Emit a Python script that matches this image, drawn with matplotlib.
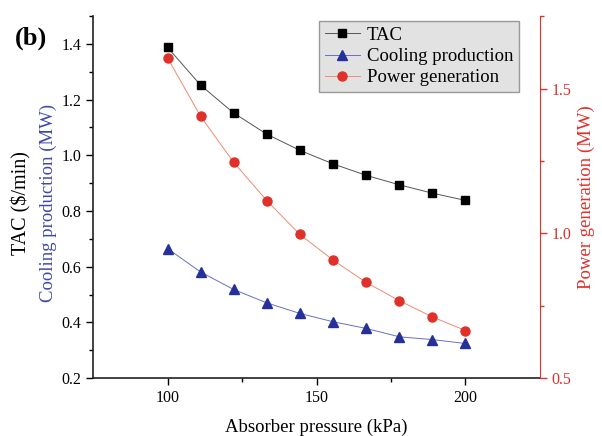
import matplotlib.pyplot as plt

plt.rcParams['font.family'] = ['Liberation Serif', 'DejaVu Serif']

# Absorber pressure (kPa)
pressao = [100, 111.1, 122.2, 133.3, 144.4, 155.6, 166.7, 177.8, 188.9, 200]

# TAC ($/min)
tac = [1.388, 1.252, 1.152, 1.076, 1.018, 0.969, 0.928, 0.894, 0.864, 0.838]

# Cooling production (MW)
resfriamento = [0.665, 0.581, 0.518, 0.470, 0.432, 0.402, 0.378, 0.348, 0.338, 0.324]

# Power generation (MW)
potencia = [1.606, 1.404, 1.245, 1.113, 0.996, 0.907, 0.830, 0.767, 0.711, 0.664]

vermelho = '#e0302a'
azul = '#26309a'

fig = plt.figure(figsize=(6.02, 4.36), dpi=100)
ax = fig.add_axes([0.1545, 0.133, 0.7425, 0.830])
ax2 = ax.twinx()

l1, = ax.plot(pressao, tac, color='#555555', lw=0.7, marker='s', ms=6,
              mfc='black', mec='black', label='TAC')
l2, = ax.plot(pressao, resfriamento, color='#6870c0', lw=0.7, marker='^', ms=7,
              mfc=azul, mec=azul, label='Cooling production')
l3, = ax2.plot(pressao, potencia, color='#f08a70', lw=0.7, marker='o', ms=6.5,
               mfc=vermelho, mec=vermelho, label='Power generation')

ax.set_xlim(75, 225)
ax.set_ylim(0.2, 1.5)
ax2.set_ylim(0.5, 1.75)

ax.set_xticks([100, 150, 200])
ax.set_xticks([125, 175], minor=True)
ax.set_yticks([0.2, 0.4, 0.6, 0.8, 1.0, 1.2, 1.4])
ax.set_yticks([0.3, 0.5, 0.7, 0.9, 1.1, 1.3, 1.5], minor=True)
ax.set_yticklabels(['0.2', '0.4', '0.6', '0.8', '1.0', '1.2', '1.4'])
ax2.set_yticks([0.5, 1.0, 1.5])
ax2.set_yticks([0.75, 1.25, 1.75], minor=True)

for a in (ax, ax2):
    a.tick_params(which='major', length=5, width=1, labelsize=11.5)
    a.tick_params(which='minor', length=3, width=1)

ax.spines['top'].set_visible(False)
ax2.spines['top'].set_visible(False)
ax2.spines['right'].set_color(vermelho)
ax2.spines['left'].set_visible(False)
ax2.spines['bottom'].set_visible(False)
ax.spines['right'].set_visible(False)
for lado in ('left', 'bottom'):
    ax.spines[lado].set_linewidth(1.2)
    ax.spines[lado].set_color('#222222')
ax2.tick_params(axis='y', which='both', colors=vermelho, labelcolor=vermelho)

ax.set_xlabel('Absorber pressure (kPa)', fontsize=13.5, labelpad=9)
ax2.set_ylabel('Power generation (MW)', fontsize=13.5, color=vermelho, labelpad=4)

fig.text(0.036, 0.534, 'TAC ($/min)', rotation=90, fontsize=14.5,
         ha='center', va='center', color='black')
fig.text(0.081, 0.534, 'Cooling production (MW)', rotation=90, fontsize=13.5,
         ha='center', va='center', color='#4048a8')
fig.text(0.025, 0.913, '(b)', fontsize=19, fontweight='bold', va='center')

leg = ax.legend(handles=[l1, l2, l3], loc='upper right', fontsize=13.5,
                frameon=True, fancybox=False, borderaxespad=0,
                handlelength=1.9, handletextpad=0.35, labelspacing=0.22,
                borderpad=0.3, bbox_to_anchor=(0.953, 0.986))
leg.get_frame().set_facecolor('#e2e2e2')
leg.get_frame().set_edgecolor('#999999')
leg.get_frame().set_alpha(1)

fig.savefig('out.png', dpi=100)
